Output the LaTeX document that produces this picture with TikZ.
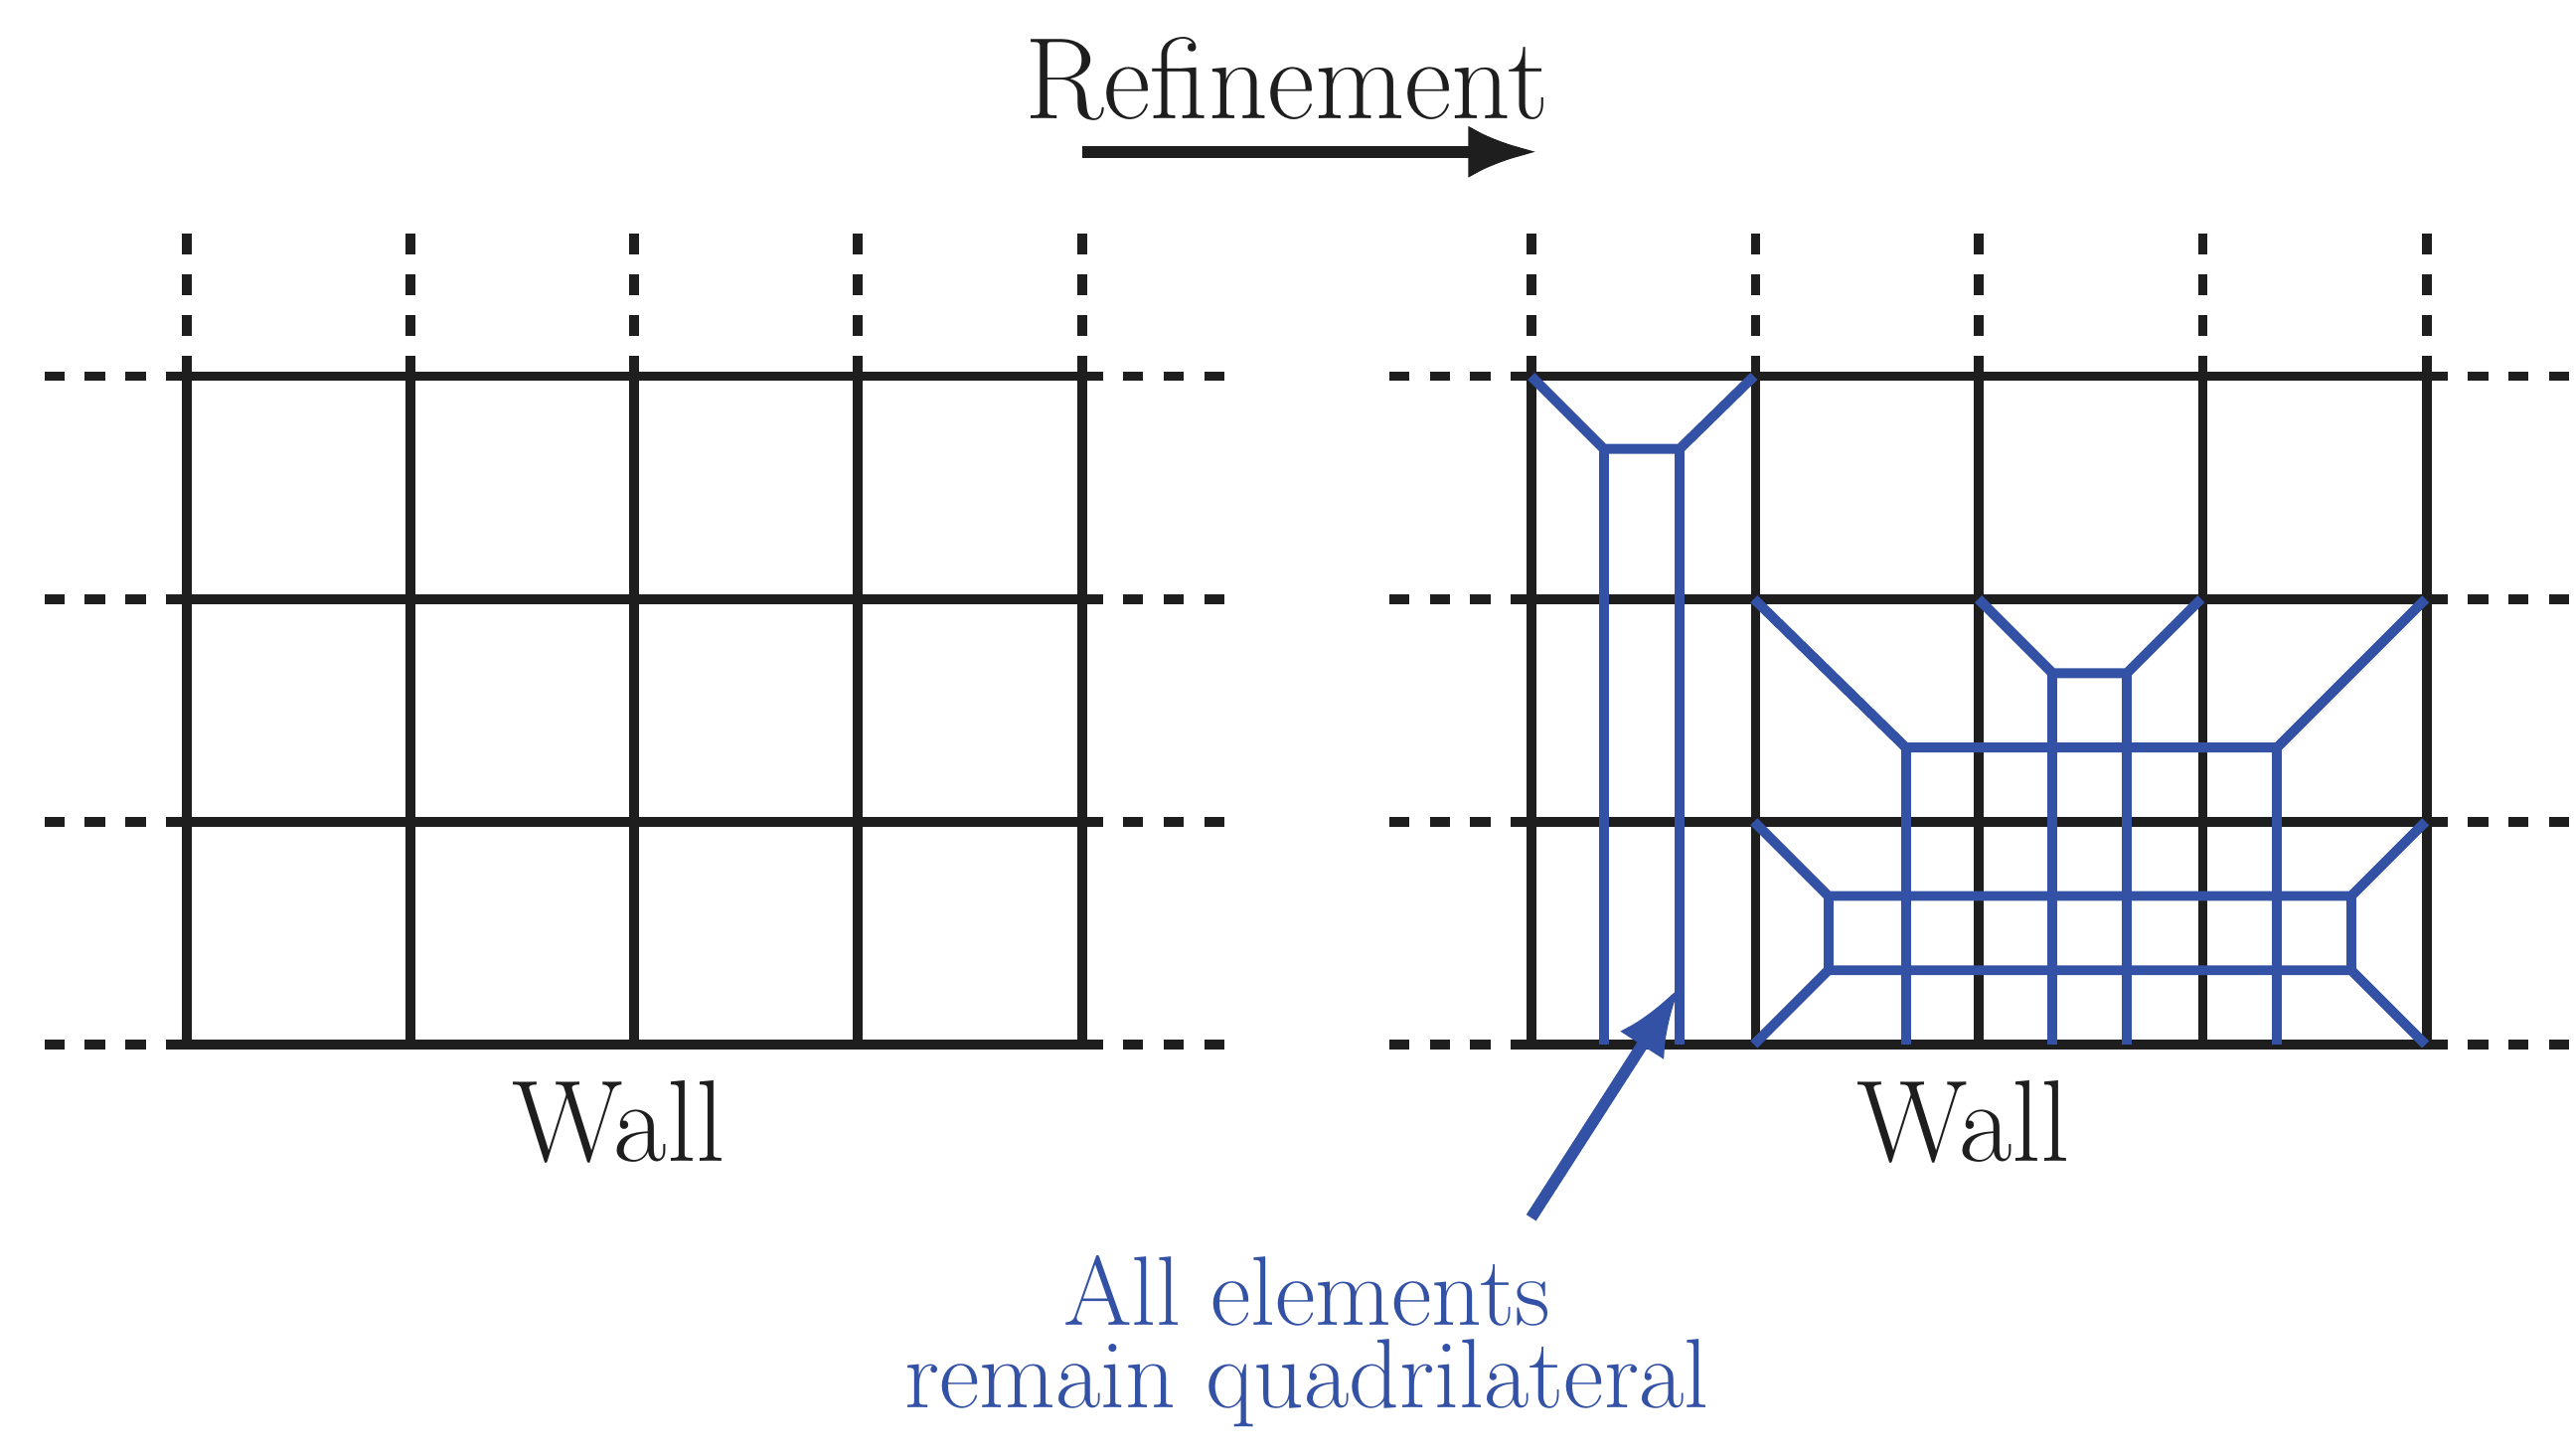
\documentclass[tikz,border=0pt]{standalone}
\usetikzlibrary{arrows.meta}
\definecolor{mblue}{RGB}{52,82,165}
\definecolor{mblack}{RGB}{30,30,30}
\begin{document}
\begin{tikzpicture}[x=0.01cm,y=-0.01cm,
  grid/.style={mblack,line width=1.7pt},
  ext/.style={mblack,line width=1.7pt,dash pattern=on 3.5pt off 3.5pt},
  ref/.style={mblue,line width=1.7pt,line join=round},
  lab/.style={font=\fontsize{20}{24}\selectfont,text=mblack}]
\useasboundingbox (0,0) rectangle (1560,882);
\foreach \o in {0,815}{
  \foreach \x in {113,249,384,520,656}{
    \draw[grid] (\x+\o,228) -- (\x+\o,633);
    \draw[ext] (\x+\o,228) -- (\x+\o,135);}
  \foreach \y in {228,363,498,633}{
    \draw[grid] (113+\o,\y) -- (656+\o,\y);
    \draw[ext] (113+\o,\y) -- (22+\o,\y);
    \draw[ext] (656+\o,\y) -- (745+\o,\y);}
}
\node[lab] (w1) at (375,680) {Wall};
\node[lab] (w2) at (1190,680) {Wall};
\node[lab] (r) at (780,48) {Refinement};
\coordinate (ra) at (656,92); \coordinate (rb) at (932,92);
\draw[mblack,line width=2pt,-{Latex[length=12pt,width=9pt]}] (ra) -- (rb);
\draw[ref] (928,228) -- (972,272) -- (1018,272) -- (1063,228);
\draw[ref] (972,272) -- (972,633) (1018,272) -- (1018,633);
\draw[ref] (1063,363) -- (1155,453) -- (1380,453) -- (1470,363);
\draw[ref] (1155,453) -- (1155,633) (1380,453) -- (1380,633);
\draw[ref] (1199,363) -- (1244,408) -- (1289,408) -- (1334,363);
\draw[ref] (1244,408) -- (1244,633) (1289,408) -- (1289,633);
\draw[ref] (1063,498) -- (1108,543) -- (1425,543) -- (1470,498);
\draw[ref] (1063,633) -- (1108,588) -- (1425,588) -- (1470,633);
\draw[ref] (1108,543) -- (1108,588) (1425,543) -- (1425,588);
\node[font=\fontsize{17}{14.2}\selectfont,text=mblue,align=center] (t) at (792,813) {All elements\\remain quadrilateral};
\coordinate (a1) at (928,738); \coordinate (a2) at (1018,598);
\draw[mblue,line width=2pt,-{Latex[length=12pt,width=9pt]}] (a1) -- (a2);
\end{tikzpicture}
\end{document}
